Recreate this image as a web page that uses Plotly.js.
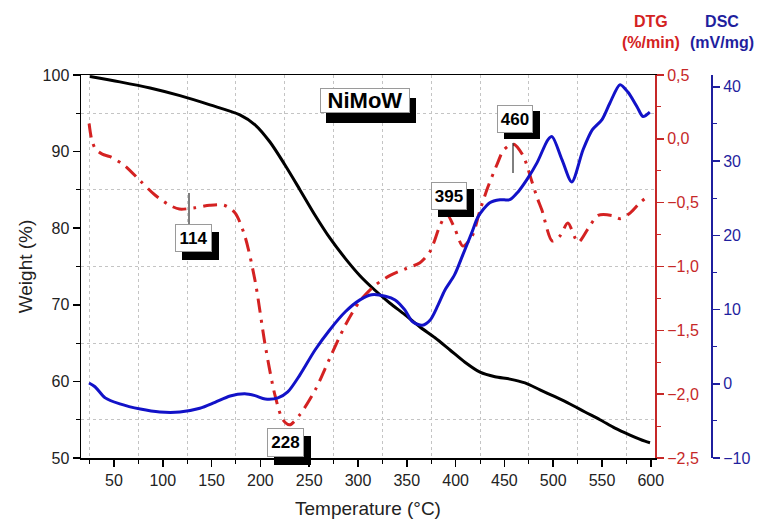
<!DOCTYPE html>
<html>
<head>
<meta charset="utf-8">
<script src="https://cdn.plot.ly/plotly-3.0.1.min.js"></script>
<style>html,body{margin:0;padding:0;background:#fff;}#chart{width:762px;height:522px;}</style>
</head>
<body>
<div id="chart"></div>
<script>
// Weight (TG) curve
const tempTG = [25.4, 56, 87, 117.6, 148.4, 179, 194.5, 209.8, 225.2, 240.6, 256, 271.3, 286.7, 302, 317.4, 332.8, 348.2, 363.5, 378.9, 394.3, 409.6, 425, 440.4, 455.7, 471.1, 486.5, 501.8, 517.2, 532.6, 547.9, 563.3, 578.7, 594, 599.2];
const weight = [99.8, 99.1, 98.3, 97.3, 96.1, 94.8, 93.5, 91.25, 88.25, 85.0, 81.7, 78.7, 76.1, 73.8, 71.9, 70.2, 68.7, 67.1, 65.7, 64.1, 62.5, 61.2, 60.6, 60.3, 59.8, 58.9, 58.0, 57.05, 56.0, 55.0, 53.9, 53.0, 52.2, 52.0];

// DTG curve
const tempDTG = [24.5, 27, 31, 38, 46, 61, 77, 92, 107, 117, 133, 148, 163, 174, 184, 194.5, 205, 215, 223, 230, 240.5, 256, 271, 287, 302, 317, 333, 348, 363.5, 374, 384, 391, 399, 407.5, 417, 425, 433, 443, 449, 459, 469, 478, 483.5, 488.5, 499, 507, 515, 525.5, 536, 546, 560, 568.5, 579, 589, 597];
const dtg = [0.12, 0.0, -0.08, -0.12, -0.14, -0.21, -0.33, -0.44, -0.52, -0.55, -0.54, -0.52, -0.52, -0.58, -0.76, -1.11, -1.62, -2.01, -2.20, -2.24, -2.16, -1.97, -1.72, -1.46, -1.27, -1.15, -1.07, -1.02, -0.97, -0.88, -0.68, -0.59, -0.70, -0.84, -0.76, -0.56, -0.38, -0.19, -0.09, -0.04, -0.13, -0.33, -0.46, -0.56, -0.80, -0.76, -0.66, -0.81, -0.70, -0.60, -0.60, -0.625, -0.58, -0.50, -0.45];

// DSC curve
const tempDSC = [24.4, 30.5, 41, 56, 77, 97, 117.5, 138, 153.5, 169, 184, 194.5, 205, 218, 228, 240.5, 256, 271, 287, 302, 314, 328, 338, 348, 356, 366, 374, 382, 389, 399, 407.5, 417, 423, 435, 445.5, 455.5, 464, 473, 483.5, 494.7, 498.8, 509, 519, 530.5, 540, 550, 558, 568.5, 576.5, 586, 592, 599];
const dsc = [0.1, -0.4, -1.9, -2.7, -3.4, -3.8, -3.8, -3.3, -2.5, -1.65, -1.35, -1.6, -2.05, -1.9, -1.1, 1.2, 4.55, 7.25, 9.7, 11.3, 12.0, 11.8, 11.3, 9.95, 8.35, 7.9, 8.6, 10.6, 12.6, 14.7, 17.4, 20.5, 22.5, 24.4, 24.8, 24.8, 25.85, 27.5, 29.8, 32.9, 33.3, 30.2, 27.2, 31.5, 34.2, 35.6, 37.8, 40.3, 39.3, 37.3, 36.0, 36.6];

// Peak labels
const peakLabels = ['114', '228', '395', '460'];
const sampleName = 'NiMoW';

const RED = '#d42222';
const REDAX = '#c62828';
const BLUE = '#1212c8';
const BLUEAX = '#1f1f9e';
const FONT = 'Liberation Sans, Arial, sans-serif';

// pixel helpers for label boxes (plot area: x 81..712 paper, y 75..458)
const L = 81, R = 712, T = 75, B = 458;
const px = x => (x - L) / (R - L);
const py = y => (B - y) / (B - T);

function boxLabel(text, cx, cy, w, h, size, sx, sy) {
  const common = {xref: 'paper', yref: 'paper', x: px(cx), y: py(cy), xanchor: 'center', yanchor: 'middle',
    showarrow: false, width: w, height: h};
  return [
    Object.assign({}, common, {xshift: sx, yshift: -sy, text: '&nbsp;', bgcolor: '#000', bordercolor: '#000', borderwidth: 1,
      font: {family: FONT, size: 8, color: '#000'}}),
    Object.assign({}, common, {text: '<b>' + text + '</b>', bgcolor: '#fff', bordercolor: '#9a9a9a', borderwidth: 1,
      font: {family: FONT, size: size, color: '#000'}})
  ];
}

const annotations = [].concat(
  boxLabel(sampleName, 365, 100, 86, 21, 22, 6, 10),
  boxLabel(peakLabels[0], 193, 238, 33, 24, 17, 7, 8),
  boxLabel(peakLabels[1], 285.5, 442, 33, 25, 17, 7, 8),
  boxLabel(peakLabels[2], 449, 196, 32, 24, 17, 7, 7),
  boxLabel(peakLabels[3], 515, 119, 32, 24, 17, 7, 6),
  [
    {xref: 'paper', yref: 'paper', x: px(651), y: py(32), xanchor: 'center', yanchor: 'middle', showarrow: false,
     text: '<b>DTG</b><br><b>(%/min)</b>', font: {family: FONT, size: 16, color: RED}},
    {xref: 'paper', yref: 'paper', x: px(722), y: py(32), xanchor: 'center', yanchor: 'middle', showarrow: false,
     text: '<b>DSC</b><br><b>(mV/mg)</b>', font: {family: FONT, size: 16, color: BLUEAX}}
  ]
);

const shapes = [
  {type: 'line', xref: 'paper', yref: 'paper', x0: px(189), x1: px(189), y0: py(193), y1: py(225), line: {color: '#000', width: 1}},
  {type: 'line', xref: 'paper', yref: 'paper', x0: px(513), x1: px(513), y0: py(143), y1: py(173), line: {color: '#000', width: 1}}
];

const traces = [
  {x: tempTG, y: weight, type: 'scatter', mode: 'lines', yaxis: 'y', name: 'TG',
   line: {color: '#000', width: 3, shape: 'spline', smoothing: 0.8}},
  {x: tempDTG, y: dtg, type: 'scatter', mode: 'lines', yaxis: 'y2', name: 'DTG',
   line: {color: RED, width: 3, shape: 'spline', smoothing: 0.8, dash: '14px,7px,3px,7px'}},
  {x: tempDSC, y: dsc, type: 'scatter', mode: 'lines', yaxis: 'y3', name: 'DSC',
   line: {color: BLUE, width: 3, shape: 'spline', smoothing: 0.8}}
];

const gridMinor = {showgrid: true, griddash: 'dot', gridcolor: '#c4c4c4', gridwidth: 1};

const layout = {
  width: 762, height: 522,
  margin: {l: L, r: 762 - R, t: T, b: 522 - B, pad: 0},
  paper_bgcolor: '#fff', plot_bgcolor: '#fff',
  showlegend: false,
  separators: ',.',
  font: {family: FONT, size: 16, color: '#222'},
  xaxis: {
    domain: [0, (655 - L) / (R - L)], range: [16.2, 604.3], dtick: 50, tick0: 0,
    ticks: 'outside', ticklen: 7, tickwidth: 1.5, tickcolor: '#000',
    minor: Object.assign({dtick: 25, ticks: 'outside', ticklen: 4, tickcolor: '#000', tickwidth: 1}, gridMinor),
    showgrid: false, zeroline: false, showline: true, linecolor: '#000', linewidth: 1.5, mirror: true,
    tickfont: {family: FONT, size: 16, color: '#222'},
    title: {text: 'Temperature (°C)', font: {family: FONT, size: 19, color: '#222'}, standoff: 14}
  },
  yaxis: {
    range: [50, 100], dtick: 10, tick0: 0,
    ticks: 'outside', ticklen: 7, tickwidth: 1.5, tickcolor: '#000',
    minor: Object.assign({dtick: 5, ticks: 'outside', ticklen: 4, tickcolor: '#000', tickwidth: 1}, gridMinor),
    showgrid: false, zeroline: false, showline: true, linecolor: '#000', linewidth: 1.5,
    tickfont: {family: FONT, size: 16, color: '#222'},
    title: {text: 'Weight (%)', font: {family: FONT, size: 19, color: '#222'}, standoff: 5}
  },
  yaxis2: {
    overlaying: 'y', side: 'right', anchor: 'x',
    range: [-2.5, 0.5], dtick: 0.5, tick0: 0, tickformat: '.1f',
    ticks: 'outside', ticklen: 7, tickwidth: 1.5, tickcolor: REDAX,
    minor: {dtick: 0.25, ticks: 'outside', ticklen: 4, tickcolor: REDAX, tickwidth: 1, showgrid: false},
    showgrid: false, zeroline: false, showline: true, linecolor: REDAX, linewidth: 2,
    tickfont: {family: FONT, size: 16, color: REDAX}
  },
  yaxis3: {
    overlaying: 'y', side: 'right', anchor: 'free', position: 1,
    range: [-10, 41.6], dtick: 10, tick0: 0,
    ticks: 'outside', ticklen: 7, tickwidth: 1.5, tickcolor: BLUEAX,
    minor: {dtick: 5, ticks: 'outside', ticklen: 4, tickcolor: BLUEAX, tickwidth: 1, showgrid: false},
    showgrid: false, zeroline: false, showline: true, linecolor: BLUEAX, linewidth: 2,
    tickfont: {family: FONT, size: 16, color: BLUEAX}
  },
  annotations: annotations,
  shapes: shapes
};

Plotly.newPlot('chart', traces, layout, {staticPlot: true, displayModeBar: false});
</script>
</body>
</html>
